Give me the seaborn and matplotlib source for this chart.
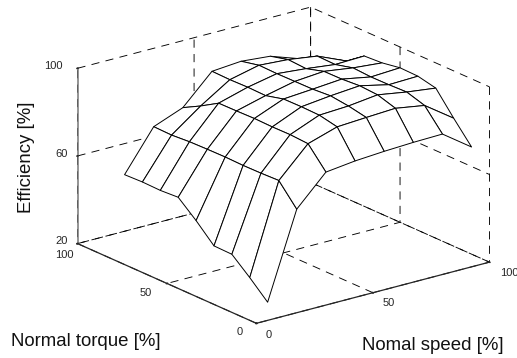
import matplotlib
matplotlib.use("Agg")
import matplotlib.pyplot as plt
import numpy as np
import seaborn as sns

speed = [12.5, 25, 37.5, 50, 62.5, 75, 87.5, 100]
torque = [10, 20, 30, 40, 50, 60, 70, 80, 90]
eff_s125 = [22.5, 30.1, 37.1, 37.3, 45.2, 52.2, 51.7, 51.9, 51.6]
eff_s250 = [61.5, 70.9, 70.6, 70.5, 70.7, 70.6, 70.4, 69.8, 70.0]
eff_s375 = [74.9, 84.2, 84.7, 84.6, 84.8, 84.6, 84.5, 79.6, 75.2]
eff_s500 = [76.5, 88.4, 90.1, 90.3, 90.2, 88.1, 88.3, 88.1, 88.3]
eff_s625 = [77.4, 89.2, 90.8, 91.8, 91.2, 91.1, 91.0, 91.2, 89.4]
eff_s750 = [78.0, 89.9, 92.4, 92.9, 92.3, 92.2, 89.8, 90.3, 88.2]
eff_s875 = [78.3, 87.7, 90.2, 89.9, 89.8, 90.3, 88.2, 88.4, 83.6]
eff_s1000 = [68.9, 78.4, 88.5, 90.3, 90.5, 89.1, 88.6, 82.7, 80.1]
xy_ticks = [0, 50, 100]
z_ticks = [20, 60, 100]

sns.set_theme(style="white")
plt.rcParams["font.family"] = ["Liberation Sans", "DejaVu Sans"]

fig = plt.figure(figsize=(5.17, 3.58), dpi=100)
ax = fig.add_axes([0.039, 0.025, 1, 1], projection="3d", proj_type="ortho")
ax.view_init(elev=20, azim=-127.5)
ax.set_box_aspect((1, 1, 0.635), zoom=1.235)

X, Y = np.meshgrid(speed, torque)
Z = np.array([eff_s125, eff_s250, eff_s375, eff_s500, eff_s625, eff_s750, eff_s875, eff_s1000]).T
surf = ax.plot_surface(X, Y, Z, rstride=1, cstride=1, color="white", edgecolor="black",
                       linewidth=0.7, shade=False, antialiased=True)
surf.set_clip_on(False)

ax.set_xlim(0, 100, view_margin=0)
ax.set_ylim(0, 100, view_margin=0)
ax.set_zlim(20, 100, view_margin=0)
ax.set_xticks(xy_ticks)
ax.set_yticks(xy_ticks)
ax.set_zticks(z_ticks)
for axis in (ax.xaxis, ax.yaxis, ax.zaxis):
    axis.set_pane_color((1, 1, 1, 0))
    axis.pane.set_edgecolor((1, 1, 1, 0))
    axis._axinfo["grid"].update(color="black", linewidth=0.65, linestyle=(0, (9, 7)))
    axis._axinfo["axisline"]["color"] = "black"
    axis._axinfo["tick"].update(color="black", inward_factor=0.03, outward_factor=0.03)
    axis.line.set_linewidth(0.9)
ax.zaxis.line.set_color("#777777")
ax.zaxis.line.set_linewidth(1.1)
ax.tick_params(labelsize=8, colors="#262626", pad=0)
ax.set_facecolor("white")


def nudge(label, dx, dy):
    """Shift a 3D tick label by a fixed pixel offset each time it is placed."""
    place = label.set_position

    def shifted(xy):
        px = ax.transData.transform(xy)
        place(ax.transData.inverted().transform((px[0] + dx, px[1] + dy)))

    label.set_position = shifted


label_offsets = {
    ax.xaxis: [(2, 9), (5, 10), (9, 9)],
    ax.yaxis: [(-3, 10), (-7, 10), (1, 8)],
    ax.zaxis: [(9, 6), (9, 6), (0, 6)],
}
for axis, offsets in label_offsets.items():
    for tick, (dx, dy) in zip(axis.get_major_ticks(), offsets):
        nudge(tick.label1, dx, dy)

fig.text(0.022, 0.047, "Normal torque [%]", fontsize=13.4, color="#111111", va="center")
fig.text(0.70, 0.035, "Nomal speed [%]", fontsize=13.4, color="#111111", va="center")
fig.text(0.052, 0.561, "Efficiency [%]", fontsize=13.4, color="#111111", rotation=90, va="center", ha="center")

fig.savefig("out.png", dpi=100)
